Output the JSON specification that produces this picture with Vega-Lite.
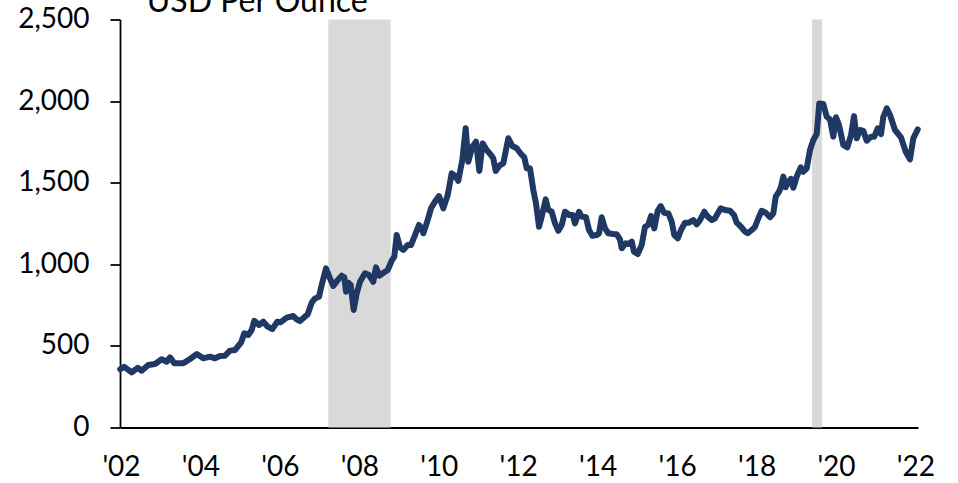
{
  "$schema": "https://vega.github.io/schema/vega-lite/v6.json",
  "width": 798,
  "height": 408,
  "autosize": "none",
  "padding": {"left": 120, "top": 19.5, "right": 40, "bottom": 55.5},
  "background": "white",
  "config": {"view": {"stroke": null}, "font": "Lato"},
  "layer": [
    {
      "data": {"values": [
        {"start": 2007.22, "end": 2008.79},
        {"start": 2019.397, "end": 2019.649}
      ]},
      "mark": {"type": "rect", "color": "#D9D9D9"},
      "encoding": {
        "x": {"field": "start", "type": "quantitative"},
        "x2": {"field": "end"}
      }
    },
    {
      "data": {"values": [
        {"year": 2001.98, "price": 357}, {"year": 2002.083, "price": 372}, {"year": 2002.269, "price": 338}, {"year": 2002.42, "price": 366}, {"year": 2002.521, "price": 348}, {"year": 2002.687, "price": 383}, {"year": 2002.856, "price": 389}, {"year": 2003.025, "price": 418}, {"year": 2003.151, "price": 403}, {"year": 2003.234, "price": 430}, {"year": 2003.342, "price": 393}, {"year": 2003.568, "price": 393}, {"year": 2003.737, "price": 420}, {"year": 2003.906, "price": 450}, {"year": 2004.072, "price": 424}, {"year": 2004.241, "price": 434}, {"year": 2004.367, "price": 424}, {"year": 2004.492, "price": 438}, {"year": 2004.618, "price": 440}, {"year": 2004.744, "price": 471}, {"year": 2004.87, "price": 475}, {"year": 2005.021, "price": 520}, {"year": 2005.104, "price": 577}, {"year": 2005.205, "price": 567}, {"year": 2005.291, "price": 597}, {"year": 2005.356, "price": 654}, {"year": 2005.474, "price": 628}, {"year": 2005.583, "price": 648}, {"year": 2005.693, "price": 618}, {"year": 2005.809, "price": 603}, {"year": 2005.935, "price": 648}, {"year": 2006.021, "price": 645}, {"year": 2006.172, "price": 673}, {"year": 2006.338, "price": 683}, {"year": 2006.423, "price": 663}, {"year": 2006.507, "price": 652}, {"year": 2006.7, "price": 694}, {"year": 2006.801, "price": 765}, {"year": 2006.884, "price": 791}, {"year": 2006.985, "price": 801}, {"year": 2007.053, "price": 873}, {"year": 2007.161, "price": 975}, {"year": 2007.262, "price": 914}, {"year": 2007.345, "price": 867}, {"year": 2007.446, "price": 900}, {"year": 2007.556, "price": 930}, {"year": 2007.622, "price": 920}, {"year": 2007.665, "price": 832}, {"year": 2007.723, "price": 887}, {"year": 2007.783, "price": 873}, {"year": 2007.858, "price": 720}, {"year": 2007.934, "price": 822}, {"year": 2008.017, "price": 893}, {"year": 2008.143, "price": 945}, {"year": 2008.244, "price": 934}, {"year": 2008.352, "price": 893}, {"year": 2008.42, "price": 981}, {"year": 2008.503, "price": 930}, {"year": 2008.629, "price": 951}, {"year": 2008.715, "price": 965}, {"year": 2008.815, "price": 1022}, {"year": 2008.881, "price": 1047}, {"year": 2008.941, "price": 1179}, {"year": 2009.024, "price": 1104}, {"year": 2009.107, "price": 1088}, {"year": 2009.218, "price": 1118}, {"year": 2009.301, "price": 1118}, {"year": 2009.402, "price": 1179}, {"year": 2009.503, "price": 1241}, {"year": 2009.57, "price": 1220}, {"year": 2009.611, "price": 1190}, {"year": 2009.696, "price": 1251}, {"year": 2009.805, "price": 1343}, {"year": 2009.905, "price": 1384}, {"year": 2010.006, "price": 1418}, {"year": 2010.114, "price": 1343}, {"year": 2010.225, "price": 1425}, {"year": 2010.326, "price": 1557}, {"year": 2010.409, "price": 1543}, {"year": 2010.492, "price": 1512}, {"year": 2010.593, "price": 1639}, {"year": 2010.678, "price": 1833}, {"year": 2010.744, "price": 1629}, {"year": 2010.844, "price": 1720}, {"year": 2010.938, "price": 1751}, {"year": 2011.021, "price": 1572}, {"year": 2011.106, "price": 1741}, {"year": 2011.207, "price": 1700}, {"year": 2011.315, "price": 1670}, {"year": 2011.373, "price": 1649}, {"year": 2011.433, "price": 1572}, {"year": 2011.542, "price": 1608}, {"year": 2011.625, "price": 1619}, {"year": 2011.751, "price": 1772}, {"year": 2011.852, "price": 1725}, {"year": 2011.962, "price": 1711}, {"year": 2012.07, "price": 1676}, {"year": 2012.154, "price": 1655}, {"year": 2012.214, "price": 1588}, {"year": 2012.297, "price": 1588}, {"year": 2012.38, "price": 1455}, {"year": 2012.448, "price": 1374}, {"year": 2012.524, "price": 1230}, {"year": 2012.592, "price": 1292}, {"year": 2012.692, "price": 1398}, {"year": 2012.758, "price": 1333}, {"year": 2012.843, "price": 1322}, {"year": 2012.927, "price": 1251}, {"year": 2013.01, "price": 1206}, {"year": 2013.095, "price": 1241}, {"year": 2013.178, "price": 1322}, {"year": 2013.287, "price": 1302}, {"year": 2013.372, "price": 1302}, {"year": 2013.43, "price": 1251}, {"year": 2013.531, "price": 1322}, {"year": 2013.599, "price": 1292}, {"year": 2013.707, "price": 1288}, {"year": 2013.782, "price": 1210}, {"year": 2013.866, "price": 1175}, {"year": 2013.976, "price": 1179}, {"year": 2014.034, "price": 1190}, {"year": 2014.102, "price": 1288}, {"year": 2014.185, "price": 1220}, {"year": 2014.268, "price": 1190}, {"year": 2014.394, "price": 1186}, {"year": 2014.48, "price": 1184}, {"year": 2014.563, "price": 1153}, {"year": 2014.606, "price": 1098}, {"year": 2014.707, "price": 1129}, {"year": 2014.772, "price": 1124}, {"year": 2014.858, "price": 1139}, {"year": 2014.915, "price": 1077}, {"year": 2015.009, "price": 1063}, {"year": 2015.109, "price": 1118}, {"year": 2015.192, "price": 1230}, {"year": 2015.275, "price": 1241}, {"year": 2015.343, "price": 1296}, {"year": 2015.426, "price": 1220}, {"year": 2015.512, "price": 1328}, {"year": 2015.588, "price": 1357}, {"year": 2015.671, "price": 1316}, {"year": 2015.779, "price": 1312}, {"year": 2015.865, "price": 1261}, {"year": 2015.93, "price": 1179}, {"year": 2016.016, "price": 1159}, {"year": 2016.099, "price": 1210}, {"year": 2016.199, "price": 1255}, {"year": 2016.3, "price": 1255}, {"year": 2016.409, "price": 1271}, {"year": 2016.494, "price": 1245}, {"year": 2016.577, "price": 1271}, {"year": 2016.685, "price": 1322}, {"year": 2016.771, "price": 1292}, {"year": 2016.872, "price": 1271}, {"year": 2016.955, "price": 1282}, {"year": 2017.098, "price": 1343}, {"year": 2017.206, "price": 1333}, {"year": 2017.332, "price": 1328}, {"year": 2017.433, "price": 1302}, {"year": 2017.501, "price": 1255}, {"year": 2017.609, "price": 1230}, {"year": 2017.71, "price": 1200}, {"year": 2017.778, "price": 1190}, {"year": 2017.879, "price": 1210}, {"year": 2017.962, "price": 1230}, {"year": 2018.045, "price": 1282}, {"year": 2018.13, "price": 1328}, {"year": 2018.231, "price": 1316}, {"year": 2018.339, "price": 1288}, {"year": 2018.422, "price": 1312}, {"year": 2018.483, "price": 1414}, {"year": 2018.566, "price": 1445}, {"year": 2018.616, "price": 1475}, {"year": 2018.674, "price": 1537}, {"year": 2018.735, "price": 1472}, {"year": 2018.8, "price": 1506}, {"year": 2018.868, "price": 1523}, {"year": 2018.926, "price": 1469}, {"year": 2019.011, "price": 1537}, {"year": 2019.112, "price": 1594}, {"year": 2019.178, "price": 1567}, {"year": 2019.263, "price": 1588}, {"year": 2019.346, "price": 1700}, {"year": 2019.43, "price": 1762}, {"year": 2019.515, "price": 1798}, {"year": 2019.58, "price": 1986}, {"year": 2019.681, "price": 1982}, {"year": 2019.767, "price": 1904}, {"year": 2019.85, "price": 1888}, {"year": 2019.933, "price": 1782}, {"year": 2020.001, "price": 1901}, {"year": 2020.077, "price": 1853}, {"year": 2020.185, "price": 1731}, {"year": 2020.286, "price": 1717}, {"year": 2020.379, "price": 1792}, {"year": 2020.454, "price": 1908}, {"year": 2020.522, "price": 1772}, {"year": 2020.605, "price": 1823}, {"year": 2020.688, "price": 1818}, {"year": 2020.774, "price": 1757}, {"year": 2020.882, "price": 1782}, {"year": 2020.965, "price": 1782}, {"year": 2021.051, "price": 1833}, {"year": 2021.134, "price": 1798}, {"year": 2021.192, "price": 1904}, {"year": 2021.278, "price": 1956}, {"year": 2021.361, "price": 1915}, {"year": 2021.486, "price": 1823}, {"year": 2021.637, "price": 1778}, {"year": 2021.756, "price": 1690}, {"year": 2021.864, "price": 1643}, {"year": 2021.947, "price": 1772}, {"year": 2022.058, "price": 1827}
      ]},
      "mark": {"type": "line", "color": "#203864", "strokeWidth": 6, "strokeCap": "round", "strokeJoin": "round"},
      "encoding": {
        "x": {
          "field": "year", "type": "quantitative",
          "scale": {"domain": [2001.975, 2022.065], "nice": false, "zero": false},
          "axis": {
            "title": null, "grid": false, "ticks": false,
            "values": [2002, 2004, 2006, 2008, 2010, 2012, 2014, 2016, 2018, 2020, 2022],
            "labelExpr": "\"'\" + substring(toString(datum.value), 2, 4)",
            "labelFont": "Lato", "labelFontSize": 28, "labelColor": "black", "labelPadding": 26,
            "domainColor": "black", "domainWidth": 2, "labelFlush": false, "labelOverlap": false
          }
        },
        "y": {
          "field": "price", "type": "quantitative",
          "scale": {"domain": [0, 2500], "nice": false},
          "axis": {
            "title": null, "grid": false,
            "values": [0, 500, 1000, 1500, 2000, 2500],
            "format": ",.0f",
            "labelFont": "Lato", "labelFontSize": 28, "labelColor": "black", "labelPadding": 21,
            "tickSize": 10, "tickColor": "black", "tickWidth": 1.75,
            "domainColor": "black", "domainWidth": 1.75
          }
        }
      }
    },
    {
      "data": {"values": [{"label": "USD Per Ounce", "year": 2002.65, "price": 2548}]},
      "mark": {"type": "text", "align": "left", "baseline": "alphabetic", "fontSize": 32, "font": "Lato", "color": "black", "clip": false},
      "encoding": {
        "text": {"field": "label"},
        "x": {"field": "year", "type": "quantitative"},
        "y": {"field": "price", "type": "quantitative"}
      }
    }
  ]
}
